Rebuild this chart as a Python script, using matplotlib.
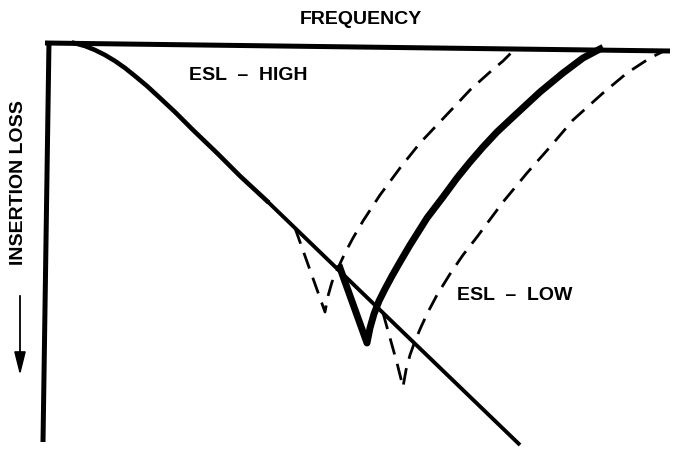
import matplotlib
matplotlib.use("Agg")
import matplotlib.pyplot as plt

plt.rcParams['lines.scale_dashes'] = False
plt.rcParams['font.family'] = ['Liberation Sans', 'DejaVu Sans']

# Schematic coordinates (frequency -> right, insertion loss -> down)
axis_top_x = [45, 670]
axis_top_y = [43, 51]
axis_left_x = [49, 43]
axis_left_y = [41, 442]

main_curve_x = [74, 85, 95, 105, 115, 125, 135, 147, 160, 175, 193, 217, 240, 267]
main_curve_y = [43, 46, 50, 55, 61, 68, 76, 86, 98, 112, 130, 153, 176, 201]
main_line_x = [267, 520]
main_line_y = [201, 445]

dash1_x = [295, 305, 315, 325, 328, 332, 338, 345, 353, 363, 380, 400, 420, 437, 455, 470, 490, 503, 513]
dash1_y = [228, 256, 284, 312, 296, 282, 268, 253, 238, 221, 195, 168, 143, 125, 106, 90, 72, 61, 51]

thick_x = [340, 349, 358, 367, 370, 374, 379, 385, 392, 400, 410, 427, 443, 457, 470, 483, 497, 513, 540, 563, 583, 600]
thick_y = [268, 293, 318, 343, 328, 314, 301, 289, 276, 262, 245, 218, 197, 178, 162, 147, 132, 117, 92, 73, 58, 49]

dash3_x = [383, 390, 397, 403, 406, 410, 415, 421, 428, 437, 450, 463, 477, 503, 527, 550, 573, 603, 627, 650, 662]
dash3_y = [313, 338, 363, 387, 370, 355, 341, 327, 312, 295, 274, 255, 237, 202, 173, 147, 120, 93, 73, 58, 52]

fig = plt.figure(figsize=(6.78, 4.53), dpi=100)
ax = fig.add_axes([0, 0, 1, 1])
ax.set_xlim(0, 678)
ax.set_ylim(453, 0)
ax.axis('off')

k = 'black'
ax.plot(axis_top_x, axis_top_y, color=k, lw=3.6, solid_capstyle='butt')
ax.plot(axis_left_x, axis_left_y, color=k, lw=3.6, solid_capstyle='butt')
ax.plot(main_curve_x, main_curve_y, color=k, lw=3.3, solid_joinstyle='round')
ax.plot(main_line_x, main_line_y, color=k, lw=2.8, solid_capstyle='butt')
ax.plot(thick_x, thick_y, color=k, lw=5.0, solid_joinstyle='round')
ax.plot(dash1_x, dash1_y, color=k, lw=2.0, dashes=(12, 7))
ax.plot(dash3_x, dash3_y, color=k, lw=2.0, dashes=(12, 7))

fs = 14
ax.text(361, 19, 'FREQUENCY', ha='center', va='center', fontsize=fs, fontweight='bold')
ax.text(248, 75, 'ESL  \u2013  HIGH', ha='center', va='center', fontsize=fs, fontweight='bold')
ax.text(515, 295, 'ESL  \u2013  LOW', ha='center', va='center', fontsize=fs, fontweight='bold')
ax.text(19, 183, 'INSERTION LOSS', ha='center', va='center', rotation=90, fontsize=fs, fontweight='bold')
ax.annotate('', xy=(20, 378), xytext=(20, 293),
            arrowprops=dict(arrowstyle='-|>,head_length=1.4,head_width=0.35', color=k, lw=1.3))

fig.savefig('out.png', dpi=100)
